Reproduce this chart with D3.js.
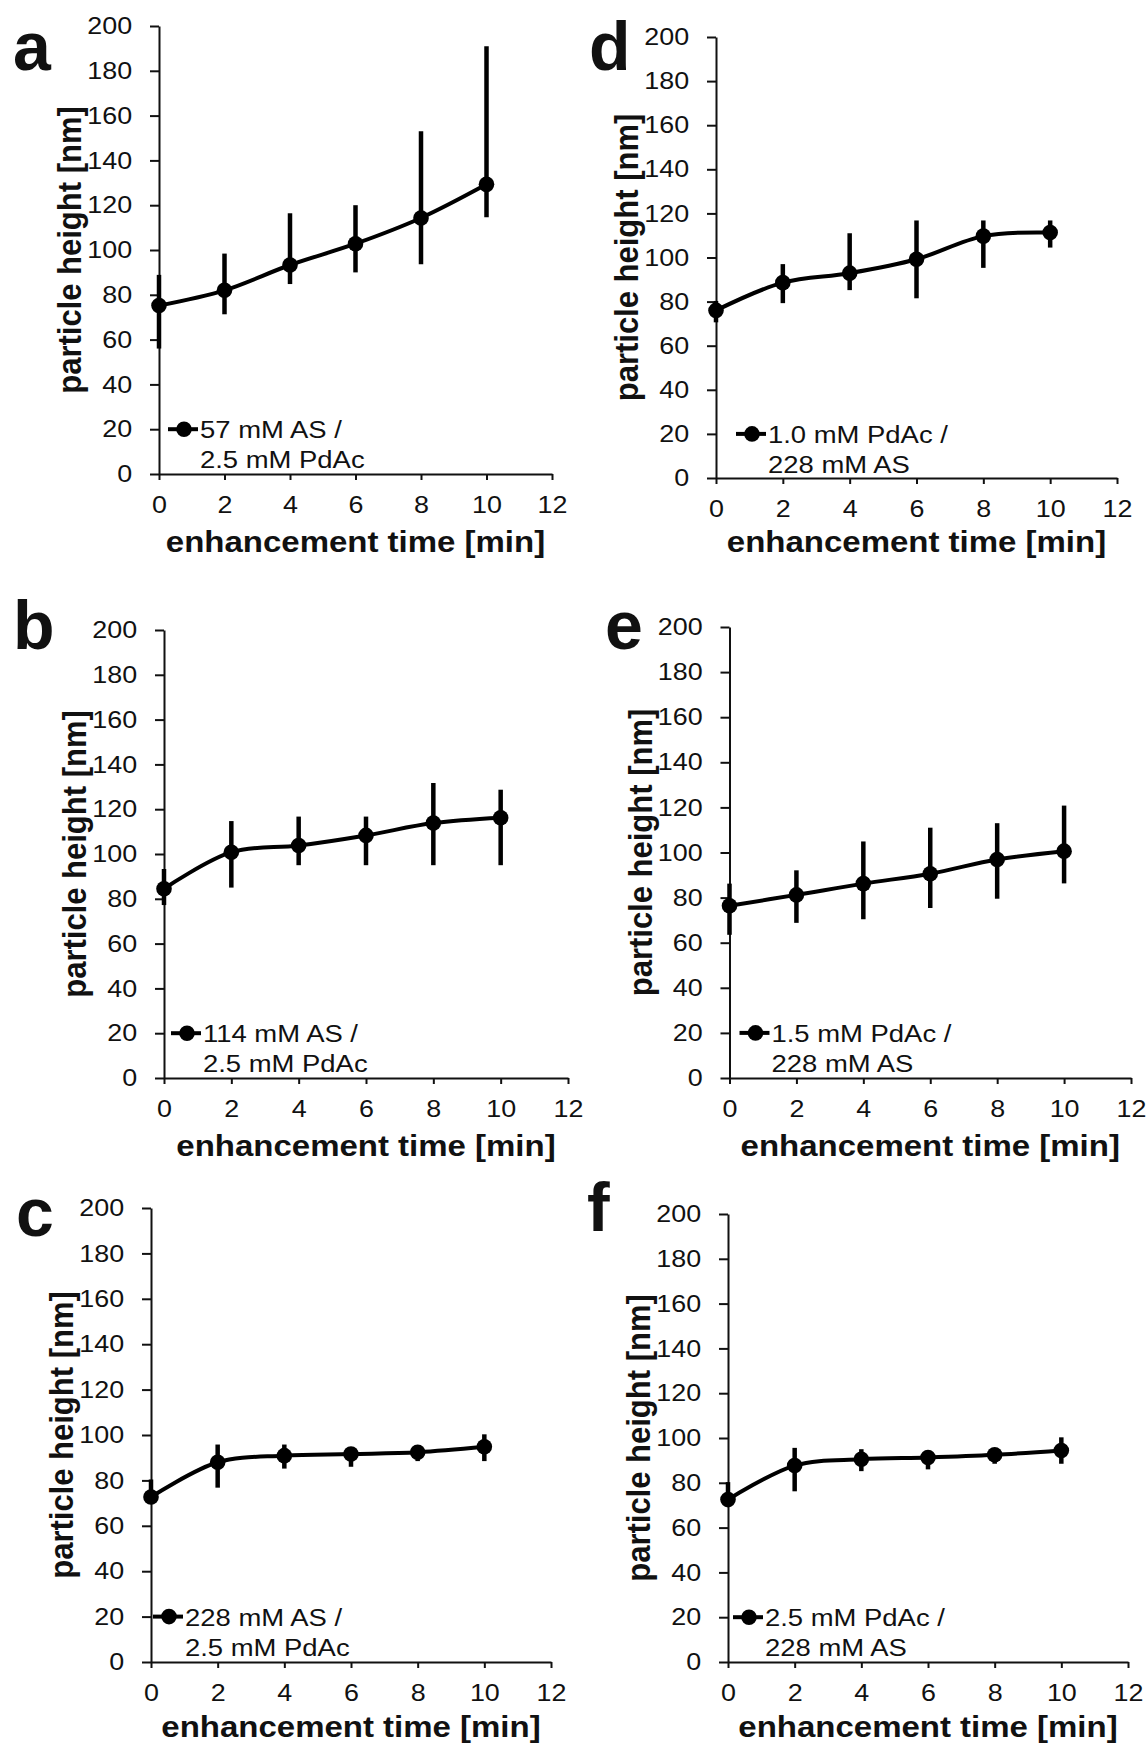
<!DOCTYPE html>
<html>
<head>
<meta charset="utf-8">
<script src="https://cdn.jsdelivr.net/npm/d3@7"></script>
<style>
  body { margin: 0; background: #fff; }
  svg { display: block; }
  text { font-family: "Liberation Sans", Arial, sans-serif; fill: #111; }
</style>
</head>
<body>
<div id="chart"></div>
<script>
// shared axes
let times = [0, 2, 4, 6, 8, 10];
let xTickValues = [0, 2, 4, 6, 8, 10, 12];
let yTickValues = [0, 20, 40, 60, 80, 100, 120, 140, 160, 180, 200];
let xTitle = "enhancement time [min]";
let yTitle = "particle height [nm]";

// a : 57 mM AS
let meanA = [75.2, 82.0, 93.3, 102.8, 114.3, 129.3];
let lowA = [56.0, 71.3, 84.8, 90.0, 93.6, 114.6];
let highA = [88.9, 98.4, 116.4, 120.0, 153.0, 191.0];
let legendA = ["57 mM AS /", "2.5 mM PdAc"];

// b : 114 mM AS
let meanB = [84.5, 100.8, 103.8, 108.3, 113.8, 116.2];
let lowB = [77.2, 85.0, 95.0, 95.0, 95.0, 95.0];
let highB = [93.3, 114.7, 116.7, 116.7, 131.7, 128.7];
let legendB = ["114 mM AS /", "2.5 mM PdAc"];

// c : 228 mM AS
let meanC = [72.7, 88.0, 90.9, 91.6, 92.4, 94.8];
let lowC = [70.6, 76.8, 85.2, 86.0, 88.5, 88.5];
let highC = [80.4, 95.8, 95.8, 94.2, 95.0, 100.3];
let legendC = ["228 mM AS /", "2.5 mM PdAc"];

// d : 1.0 mM PdAc
let meanD = [76.0, 88.6, 92.9, 99.2, 109.7, 111.3];
let lowD = [70.6, 79.3, 85.2, 81.5, 95.3, 104.5];
let highD = [80.3, 97.0, 111.0, 116.8, 116.8, 116.8];
let legendD = ["1.0 mM PdAc /", "228 mM AS"];

// e : 1.5 mM PdAc
let meanE = [76.4, 81.2, 86.2, 90.6, 96.9, 100.6];
let lowE = [63.5, 68.8, 70.4, 75.4, 79.5, 86.3];
let highE = [86.2, 92.1, 104.9, 111.0, 113.0, 120.8];
let legendE = ["1.5 mM PdAc /", "228 mM AS"];

// f : 2.5 mM PdAc
let meanF = [72.5, 87.7, 90.5, 91.3, 92.5, 94.4];
let lowF = [70.2, 76.2, 85.2, 86.0, 88.5, 88.5];
let highF = [80.3, 95.6, 95.0, 93.4, 94.8, 100.3];
let legendF = ["2.5 mM PdAc /", "228 mM AS"];

// where each panel sits on the page (pixels)
let panels = [
    { letter: "a", mean: meanA, low: lowA, high: highA, legend: legendA,
      left: 159, right: 552, bottom: 474, top: 26, lx: 13, ly: 70, legX: 9, titleDy: 78 },
    { letter: "b", mean: meanB, low: lowB, high: highB, legend: legendB,
      left: 164, right: 568, bottom: 1078, top: 630, lx: 13, ly: 649, legX: 7, titleDy: 78 },
    { letter: "c", mean: meanC, low: lowC, high: highC, legend: legendC,
      left: 151, right: 551, bottom: 1662, top: 1208, lx: 16, ly: 1236, legX: 2, titleDy: 75 },
    { letter: "d", mean: meanD, low: lowD, high: highD, legend: legendD,
      left: 716, right: 1117, bottom: 478, top: 37, lx: 589, ly: 70, legX: 20, titleDy: 74 },
    { letter: "e", mean: meanE, low: lowE, high: highE, legend: legendE,
      left: 729.5, right: 1131, bottom: 1078, top: 627, lx: 605, ly: 649, legX: 10, titleDy: 78 },
    { letter: "f", mean: meanF, low: lowF, high: highF, legend: legendF,
      left: 728, right: 1128, bottom: 1662, top: 1214, lx: 587, ly: 1231, legX: 5, titleDy: 75 }
];

// the original figure is a bit wider than its fonts
let stretch = 1.12;

let svg = d3.select('#chart')
    .append('svg')
    .attr('width', 1148)
    .attr('height', 1748);

panels.forEach(function (p) {
    let x = d3.scaleLinear().domain([0, 12]).range([p.left, p.right]);
    let y = d3.scaleLinear().domain([0, 200]).range([p.bottom, p.top]);
    let g = svg.append('g');

    // axes
    let xAxis = g.append('g')
        .attr('transform', 'translate(0,' + p.bottom + ')')
        .call(d3.axisBottom(x).tickValues(xTickValues).tickSizeInner(6).tickSizeOuter(0).tickPadding(16));
    let yAxis = g.append('g')
        .attr('transform', 'translate(' + p.left + ',0)')
        .call(d3.axisLeft(y).tickValues(yTickValues).tickSizeInner(9).tickSizeOuter(0));
    [xAxis, yAxis].forEach(function (a) {
        a.select('.domain').attr('stroke', '#111').attr('stroke-width', 2);
        a.selectAll('.tick line').attr('stroke', '#111').attr('stroke-width', 2);
        a.selectAll('.tick text')
            .style('font-size', '24px')
            .style('font-family', '"Liberation Sans", Arial, sans-serif')
            .attr('fill', '#111')
            .attr('transform', 'scale(' + stretch + ',1)');
    });
    yAxis.selectAll('.tick text').attr('x', -24);

    // axis titles
    g.append('text')
        .attr('transform', 'translate(' + (p.left + p.right) / 2 + ',' + (p.bottom + p.titleDy) + ') scale(1.1,1)')
        .attr('text-anchor', 'middle')
        .style('font-size', '30px')
        .style('font-weight', 'bold')
        .text(xTitle);
    g.append('text')
        .attr('transform', 'translate(' + (p.left - 78) + ',' + (p.bottom + p.top) / 2 + ') scale(1.1,1) rotate(-90)')
        .attr('text-anchor', 'middle')
        .style('font-size', '31px')
        .style('font-weight', 'bold')
        .text(yTitle);

    // panel letter
    g.append('text')
        .attr('x', p.lx)
        .attr('y', p.ly)
        .style('font-size', '68px')
        .style('font-weight', 'bold')
        .text(p.letter);

    // error bars
    times.forEach(function (t, i) {
        g.append('line')
            .attr('x1', x(t)).attr('x2', x(t))
            .attr('y1', y(p.low[i])).attr('y2', y(p.high[i]))
            .attr('stroke', '#000')
            .attr('stroke-width', 4.5);
    });

    // smoothed line
    let line = d3.line()
        .x(function (d, i) { return x(times[i]); })
        .y(function (d) { return y(d); })
        .curve(d3.curveCatmullRom.alpha(0.5));
    g.append('path')
        .attr('d', line(p.mean))
        .attr('fill', 'none')
        .attr('stroke', '#000')
        .attr('stroke-width', 4);

    p.mean.forEach(function (d, i) {
        g.append('circle')
            .attr('cx', x(times[i]))
            .attr('cy', y(d))
            .attr('r', 7.8)
            .attr('fill', '#000');
    });

    // legend, sits on the 20 tick
    let ly = y(20);
    g.append('line')
        .attr('x1', p.left + p.legX).attr('x2', p.left + p.legX + 30)
        .attr('y1', ly).attr('y2', ly)
        .attr('stroke', '#000')
        .attr('stroke-width', 4);
    g.append('circle')
        .attr('cx', p.left + p.legX + 16)
        .attr('cy', ly)
        .attr('r', 7.8)
        .attr('fill', '#000');
    p.legend.forEach(function (s, i) {
        g.append('text')
            .attr('transform', 'translate(' + (p.left + p.legX + 32) + ',' + (ly + 9 + i * 30) + ') scale(' + stretch + ',1)')
            .style('font-size', '24.5px')
            .text(s);
    });
});
</script>
</body>
</html>
